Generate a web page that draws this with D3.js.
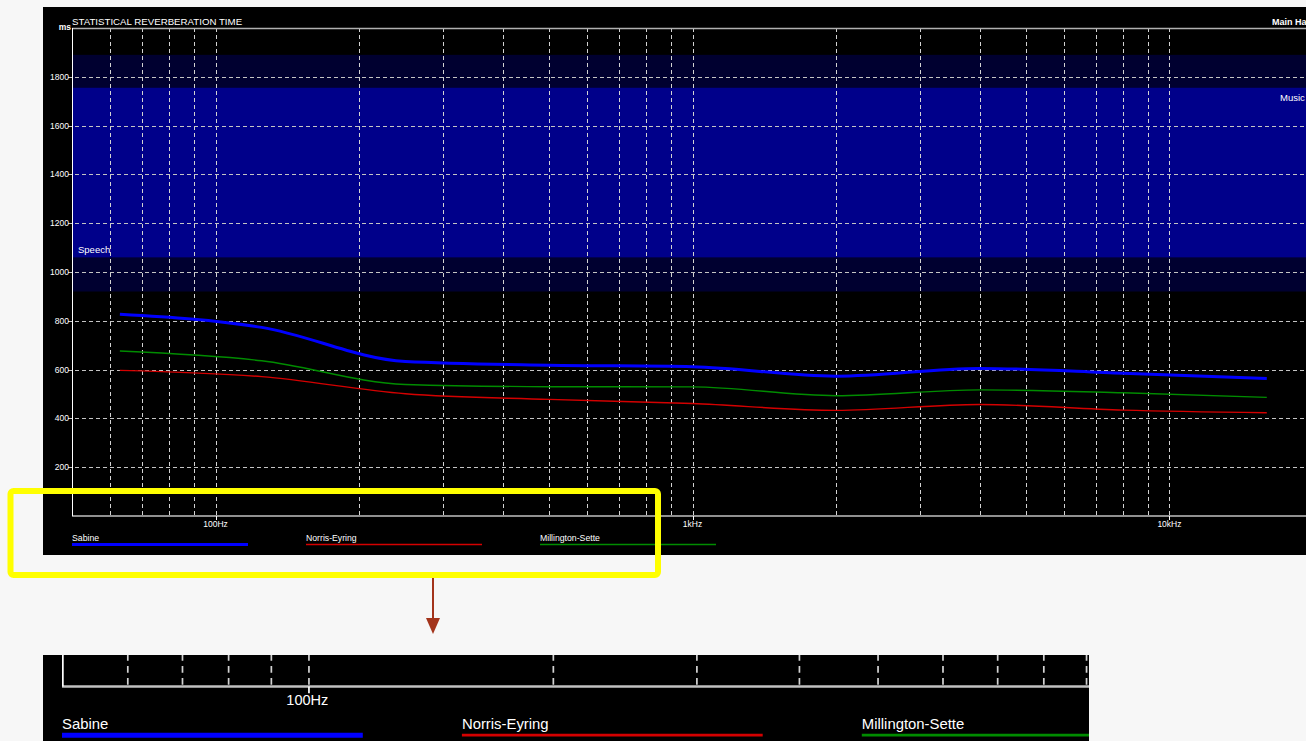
<!DOCTYPE html>
<html>
<head>
<meta charset="utf-8">
<script src="https://cdn.jsdelivr.net/npm/d3@7"></script>
<style>
  html, body { margin: 0; padding: 0; background: #f7f7f7; }
  svg { display: block; }
  text { font-family: "Liberation Sans", Arial, sans-serif; }
</style>
</head>
<body>
<svg id="chart" width="1306" height="741"></svg>
<script>
// Octave-band centre frequencies (Hz)
const freqs = [63, 125, 250, 500, 1000, 2000, 4000, 8000, 16000];
// Reverberation time per band (ms)
const sabine          = [827, 773, 633, 618, 612, 573, 605, 585, 564];
const norrisEyring    = [597, 571, 501, 478, 461, 433, 457, 434, 423];
const millingtonSette = [676, 636, 539, 530, 529, 493, 517, 505, 486];

const seriesNames  = ["Sabine", "Norris-Eyring", "Millington-Sette"];
const seriesValues = [sabine, norrisEyring, millingtonSette];

const yTickValues = [200, 400, 600, 800, 1000, 1200, 1400, 1600, 1800];
const xLabelFreqs = [100, 1000, 10000];
const xLabelTexts = ["100Hz", "1kHz", "10kHz"];

// Recommended ranges (ms)
const speechRange = [920, 1755];
const musicRange  = [1060, 1890];

const titleText = "STATISTICAL REVERBERATION TIME";
const roomName  = "Main Hall";

// ---- layout / style ----
const W = 1306, H = 741;
const panel = { x: 43, y: 7, w: 1290, h: 548 };
const plot  = { left: 72, right: 1313, top: 28, bottom: 516 };
const seriesStyle = [
  { color: "#0000ff", width: 3 },
  { color: "#d40000", width: 1.4 },
  { color: "#008c00", width: 1.4 }
];

const x = d3.scaleLog().domain([50, 20000]).range([plot.left, plot.right]);
const y = d3.scaleLinear().domain([0, 2000]).range([plot.bottom, plot.top]);

const svg = d3.select("#chart");

// view: window (in chart coordinates) that will be visible; labels outside it are skipped
function drawChart(g, view) {
  const inView = (px, py) => px >= view.x0 && px <= view.x1 && py >= view.y0 && py <= view.y1;

  // black panel
  g.append("rect")
    .attr("x", panel.x).attr("y", panel.y)
    .attr("width", panel.w).attr("height", panel.h)
    .attr("fill", "#000000");

  // range bands
  const bands = [speechRange, musicRange];
  g.selectAll("rect.band").data(bands).join("rect")
    .attr("class", "band")
    .attr("x", plot.left).attr("width", plot.right - plot.left)
    .attr("y", d => y(d[1]))
    .attr("height", d => y(d[0]) - y(d[1]))
    .attr("fill", "#000030");
  const ov = [Math.max(speechRange[0], musicRange[0]), Math.min(speechRange[1], musicRange[1])];
  g.append("rect")
    .attr("x", plot.left).attr("width", plot.right - plot.left)
    .attr("y", y(ov[1])).attr("height", y(ov[0]) - y(ov[1]))
    .attr("fill", "#00008a");

  // vertical grid (log minor + major)
  const vTicks = x.ticks().filter(f => f > 50);
  g.selectAll("line.vgrid").data(vTicks).join("line")
    .attr("class", "vgrid")
    .attr("x1", d => Math.round(x(d)) + 0.5).attr("x2", d => Math.round(x(d)) + 0.5)
    .attr("y1", plot.top).attr("y2", plot.bottom)
    .attr("stroke", "#d2d2d2").attr("stroke-width", 1)
    .attr("stroke-dasharray", "4,3");

  // horizontal grid
  g.selectAll("line.hgrid").data(yTickValues).join("line")
    .attr("class", "hgrid")
    .attr("x1", plot.left - 4).attr("x2", plot.right)
    .attr("y1", d => Math.round(y(d)) + 0.5).attr("y2", d => Math.round(y(d)) + 0.5)
    .attr("stroke", "#c4c4c4").attr("stroke-width", 1)
    .attr("stroke-dasharray", "4,3");

  // frame: top border, bottom axis, left axis
  g.append("line")
    .attr("x1", plot.left).attr("x2", plot.right)
    .attr("y1", plot.top + 0.5).attr("y2", plot.top + 0.5)
    .attr("stroke", "#b0b0b0").attr("stroke-width", 1.5);
  g.append("line")
    .attr("x1", plot.left).attr("x2", plot.right)
    .attr("y1", plot.bottom).attr("y2", plot.bottom)
    .attr("stroke", "#c0c0c0").attr("stroke-width", 1.5);
  g.append("line")
    .attr("x1", plot.left + 0.5).attr("x2", plot.left + 0.5)
    .attr("y1", plot.top).attr("y2", plot.bottom)
    .attr("stroke", "#ffffff").attr("stroke-width", 1);

  // decade ticks below the axis
  g.selectAll("line.xtick").data(xLabelFreqs).join("line")
    .attr("class", "xtick")
    .attr("x1", d => Math.round(x(d)) + 0.5).attr("x2", d => Math.round(x(d)) + 0.5)
    .attr("y1", plot.bottom).attr("y2", plot.bottom + 4)
    .attr("stroke", "#ffffff").attr("stroke-width", 1);

  // y tick labels
  g.selectAll("text.ylab").data(yTickValues.filter(d => inView(plot.left - 3, y(d)))).join("text")
    .attr("class", "ylab")
    .attr("x", plot.left - 3).attr("y", d => y(d))
    .attr("dy", "0.35em")
    .attr("text-anchor", "end")
    .attr("font-size", 8.5)
    .attr("fill", "#ffffff")
    .text(d => d);

  // unit label
  if (inView(plot.left - 1, 30)) {
    g.append("text")
      .attr("x", plot.left - 1).attr("y", 30)
      .attr("text-anchor", "end")
      .attr("font-size", 8.5).attr("font-weight", "bold")
      .attr("fill", "#ffffff").text("ms");
  }

  // x labels
  const xLab = xLabelFreqs.map((f, i) => ({ f, t: xLabelTexts[i] }))
    .filter(d => inView(x(d.f), 527));
  g.selectAll("text.xlab").data(xLab).join("text")
    .attr("class", "xlab")
    .attr("x", d => x(d.f)).attr("y", 527)
    .attr("text-anchor", "middle")
    .attr("font-size", 8.5)
    .attr("fill", "#ffffff")
    .text(d => d.t);

  // title and room name
  if (inView(plot.left, 25)) {
    g.append("text")
      .attr("x", plot.left).attr("y", 25)
      .attr("font-size", 9.7).attr("fill", "#ffffff")
      .text(titleText);
  }
  if (inView(1272, 25)) {
    g.append("text")
      .attr("x", 1272).attr("y", 25)
      .attr("font-size", 9).attr("font-weight", "bold").attr("fill", "#ffffff")
      .text(roomName);
  }

  // band labels
  if (inView(plot.left + 6, y(ov[0]) - 4)) {
    g.append("text")
      .attr("x", plot.left + 6).attr("y", y(ov[0]) - 4)
      .attr("font-size", 9.5).attr("fill", "#ffffff")
      .text("Speech");
  }
  if (inView(1280, y(ov[1]) + 13)) {
    g.append("text")
      .attr("x", 1280).attr("y", y(ov[1]) + 13)
      .attr("font-size", 9.5).attr("fill", "#ffffff")
      .text("Music");
  }

  // series lines
  const line = d3.line()
    .x((d, i) => x(freqs[i]))
    .y(d => y(d))
    .curve(d3.curveMonotoneX);
  g.selectAll("path.series").data(seriesValues).join("path")
    .attr("class", "series")
    .attr("d", d => line(d))
    .attr("fill", "none")
    .attr("stroke", (d, i) => seriesStyle[i].color)
    .attr("stroke-width", (d, i) => seriesStyle[i].width)
    .attr("stroke-linejoin", "round");

  // legend
  const leg = g.selectAll("g.leg").data(seriesNames).join("g")
    .attr("class", "leg")
    .attr("transform", (d, i) => `translate(${plot.left + i * 234},0)`);
  leg.filter((d, i) => inView(plot.left + i * 234, 541))
    .append("text")
    .attr("x", 0).attr("y", 541)
    .attr("font-size", 8.7).attr("fill", "#ffffff")
    .text(d => d);
  leg.append("line")
    .attr("x1", 0).attr("x2", 176)
    .attr("y1", 544.5).attr("y2", 544.5)
    .attr("stroke", (d, i) => seriesStyle[i].color)
    .attr("stroke-width", (d, i) => i === 0 ? 3 : 1.6);
}

// main chart
const defs = svg.append("defs");
defs.append("clipPath").attr("id", "mainClip")
  .append("rect").attr("x", 0).attr("y", 0).attr("width", W).attr("height", H);
drawChart(svg.append("g").attr("clip-path", "url(#mainClip)"),
          { x0: -Infinity, x1: Infinity, y0: -Infinity, y1: Infinity });

// highlight box around the axis/legend strip
svg.append("rect")
  .attr("x", 10.5).attr("y", 491)
  .attr("width", 647.5).attr("height", 84)
  .attr("rx", 3).attr("ry", 3)
  .attr("fill", "none")
  .attr("stroke", "#ffff00").attr("stroke-width", 6);

// pointer arrow
svg.append("line")
  .attr("x1", 433).attr("x2", 433)
  .attr("y1", 578).attr("y2", 620)
  .attr("stroke", "#a3341b").attr("stroke-width", 2);
svg.append("path")
  .attr("d", "M426,618 L440,618 L433,634 Z")
  .attr("fill", "#a3341b");

// magnified view of the highlighted strip
const inset = { x: 43, y: 655, w: 1046, h: 86 };
const s = 1.709;
const tx = 62 - plot.left * s, ty = 686.5 - plot.bottom * s;
defs.append("clipPath").attr("id", "insetClip")
  .append("rect").attr("x", inset.x).attr("y", inset.y)
  .attr("width", inset.w).attr("height", inset.h);
const insetOuter = svg.append("g").attr("clip-path", "url(#insetClip)");
insetOuter.append("rect")
  .attr("x", inset.x).attr("y", inset.y)
  .attr("width", inset.w).attr("height", inset.h)
  .attr("fill", "#000000");
const insetInner = insetOuter.append("g")
  .attr("transform", `translate(${tx},${ty}) scale(${s})`);
// visible window of the inset, in chart coordinates
const insetView = {
  x0: (inset.x - tx) / s, x1: (inset.x + inset.w - tx) / s - 10,
  y0: (inset.y - ty) / s, y1: (inset.y + inset.h - ty) / s
};
drawChart(insetInner, insetView);
</script>
</body>
</html>
